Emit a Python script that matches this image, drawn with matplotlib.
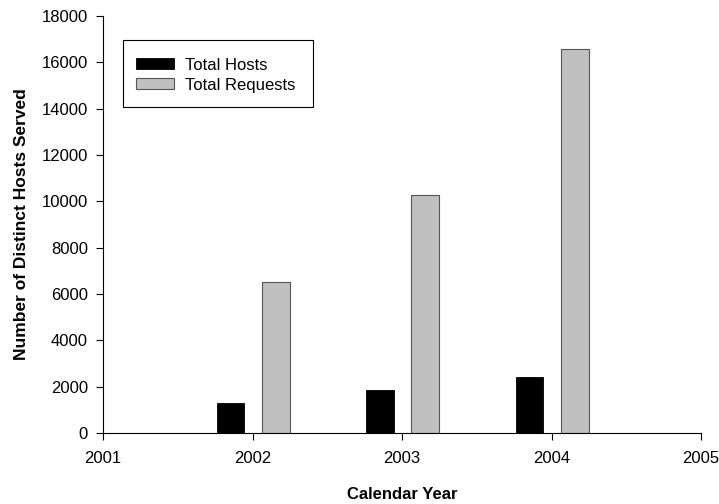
import matplotlib
matplotlib.use('Agg')
import matplotlib.pyplot as plt
from matplotlib.patches import Rectangle
import numpy as np

plt.rcParams['font.family'] = ['Liberation Sans', 'DejaVu Sans']

years = [2002, 2003, 2004]
total_hosts = [1310, 1840, 2420]
total_requests = [6530, 10290, 16570]

fig = plt.figure(figsize=(7.19, 5.04), dpi=100)
ax = fig.add_axes([0.1433, 0.1409, 0.8317, 0.8273])

x = np.array(years, dtype=float)
w = 0.185
ax.bar(x - 0.148, total_hosts, w, color='black', edgecolor='black',
       linewidth=0.6, label='Total Hosts')
ax.bar(x + 0.155, total_requests, w, color='#c0c0c0', edgecolor='#555555',
       linewidth=0.8, label='Total Requests')

ax.set_xlim(2001, 2005)
ax.set_ylim(0, 18000)
ax.set_xticks([2001, 2002, 2003, 2004, 2005])
ax.set_yticks(range(0, 18001, 2000))
ax.tick_params(direction='out', length=5, width=0.8, labelsize=12)
ax.tick_params(axis='x', pad=8)
ax.tick_params(axis='y', pad=6)

for s in ['top', 'right']:
    ax.spines[s].set_visible(False)
for s in ['left', 'bottom']:
    ax.spines[s].set_linewidth(0.8)

ax.set_xlabel('Calendar Year', fontsize=12, fontweight='bold', labelpad=15)
ax.set_ylabel('Number of Distinct Hosts Served', fontsize=12.5,
              fontweight='bold', labelpad=9)

# legend frame drawn separately so the padding can be set freely
ax.add_patch(Rectangle((0.0334, 0.782), 0.3177, 0.160, transform=ax.transAxes,
                       facecolor='white', edgecolor='black', linewidth=0.8,
                       zorder=4))
leg = ax.legend(loc='upper left', bbox_to_anchor=(0.055, 0.90),
                fontsize=12, frameon=False, borderpad=0, borderaxespad=0,
                handlelength=2.3, handleheight=0.66, handletextpad=0.66,
                labelspacing=0.3)
leg.set_zorder(5)

fig.savefig('out.png', dpi=100)
